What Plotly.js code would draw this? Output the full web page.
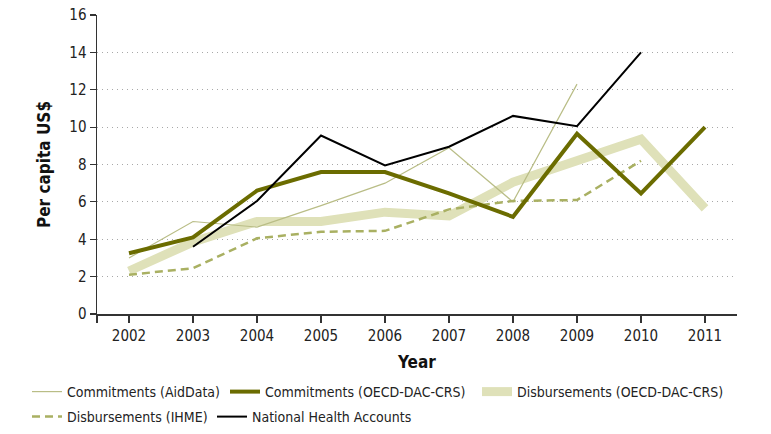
<!DOCTYPE html>
<html>
<head>
<meta charset="utf-8">
<script src="https://cdn.plot.ly/plotly-3.0.1.min.js"></script>
<style>
  html, body { margin: 0; padding: 0; background: #fff; }
  #chart { width: 771px; height: 434px; }
</style>
</head>
<body>
<div id="chart"></div>
<script>
// values (per capita US$)
var years = [2002, 2003, 2004, 2005, 2006, 2007, 2008, 2009, 2010, 2011];

var commitAidData = [3.0, 4.95, 4.65, 5.8, 7.0, 8.9, 6.0, 12.3, null, null];
var commitOecd    = [3.25, 4.1, 6.6, 7.6, 7.6, 6.45, 5.2, 9.65, 6.45, 10.0];
var disburseOecd  = [2.3, 3.85, 4.95, 4.95, 5.45, 5.25, 7.05, 8.2, 9.35, 5.65];
var disburseIhme  = [2.1, 2.45, 4.05, 4.4, 4.45, 5.6, 6.05, 6.1, 8.2, null];
var nha           = [null, 3.6, 6.05, 9.55, 7.95, 8.95, 10.6, 10.05, 14.0, null];

var yTicks = [0, 2, 4, 6, 8, 10, 12, 14, 16];

var FONT = '"Liberation Sans Narrow", "DejaVu Sans Condensed", sans-serif';
var W = 771, H = 434;
var X_MIN = 2001.5, X_MAX = 2011.5;

var traces = [
    {
        x: years, y: commitAidData, name: 'Commitments (AidData)', legend: 'legend',
        mode: 'lines', line: {color: '#b9bd86', width: 1.2}
    },
    {
        x: years, y: commitOecd, name: 'Commitments (OECD-DAC-CRS)', legend: 'legend2',
        mode: 'lines', line: {color: '#6b6c00', width: 4}
    },
    {
        x: years, y: disburseOecd, name: 'Disbursements (OECD-DAC-CRS)', legend: 'legend3',
        mode: 'lines', line: {color: '#dfe1b9', width: 9}
    },
    {
        x: years, y: disburseIhme, name: 'Disbursements (IHME)', legend: 'legend4',
        mode: 'lines', line: {color: '#a9b062', width: 2.5, dash: '8px,5px'}
    },
    {
        x: years, y: nha, name: 'National Health Accounts', legend: 'legend5',
        mode: 'lines', line: {color: '#000000', width: 2}
    }
];
// draw the thick pale band beneath the others
var order = [2, 0, 3, 1, 4];
var data = order.map(function (i) { return traces[i]; });

// one legend per entry so each sits where the original puts it
function legendAt(left, top) {
    return {
        orientation: 'h',
        xref: 'container', yref: 'container',
        x: left / W, xanchor: 'left',
        y: 1 - top / H, yanchor: 'top',
        font: {family: FONT, size: 14, color: '#222'},
        itemwidth: 30,
        bgcolor: 'rgba(0,0,0,0)'
    };
}

var layout = {
    width: W,
    height: H,
    margin: {l: 97, r: 34, t: 15, b: 120},
    paper_bgcolor: '#fff',
    plot_bgcolor: '#fff',
    font: {family: FONT, size: 15, color: '#222'},
    showlegend: true,
    legend: legendAt(27, 376),
    legend2: legendAt(225, 376),
    legend3: legendAt(477, 376),
    legend4: legendAt(27, 401),
    legend5: legendAt(212, 401),
    xaxis: {
        range: [X_MIN, X_MAX],
        // extra blank tick at the left edge, like the original's axis corner
        tickvals: [X_MIN].concat(years),
        ticktext: [''].concat(years.map(String)),
        ticks: 'outside', ticklen: 7, tickwidth: 1.2, tickcolor: '#333',
        showline: true, linecolor: '#333', linewidth: 1.5,
        showgrid: false, zeroline: false,
        tickfont: {family: FONT, size: 15, color: '#222'},
        title: {text: '<b>Year</b>', font: {family: FONT, size: 17, color: '#111'}, standoff: 12}
    },
    yaxis: {
        range: [0, 16],
        tickvals: yTicks,
        ticks: 'outside', ticklen: 6, tickwidth: 1.2, tickcolor: '#333',
        showline: true, linecolor: '#333', linewidth: 1.5,
        showgrid: true, gridcolor: '#a8a8a8', gridwidth: 1, griddash: '1px,4px',
        zeroline: false,
        tickfont: {family: FONT, size: 15, color: '#222'},
        title: {text: '<b>Per capita US$</b>', font: {family: FONT, size: 17, color: '#111'}, standoff: 14}
    }
};

Plotly.newPlot('chart', data, layout, {displayModeBar: false, staticPlot: true});
</script>
</body>
</html>
